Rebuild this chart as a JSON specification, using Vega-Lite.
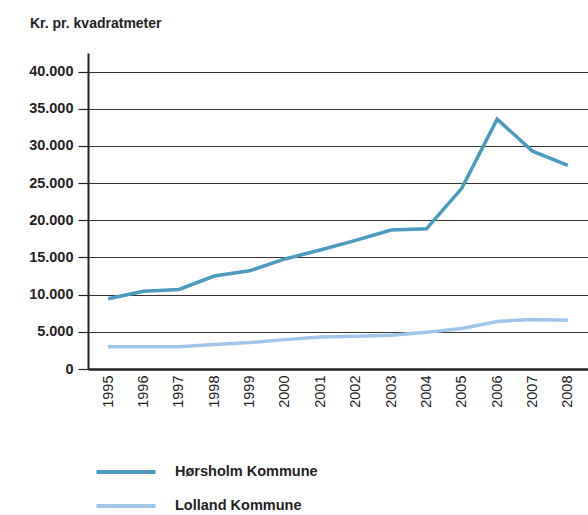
{
  "$schema": "https://vega.github.io/schema/vega-lite/v6.json",
  "autosize": {"type": "none"},
  "padding": {"left": 88, "top": 53, "right": 0, "bottom": 146},
  "width": 500,
  "height": 316,
  "title": {"text": "Kr. pr. kvadratmeter", "anchor": "start", "frame": "group", "dx": -58, "offset": 22, "font": "Liberation Sans", "fontSize": 14, "fontWeight": "bold", "color": "#222"},
  "config": {"view": {"stroke": null}, "font": "Liberation Sans"},
  "data": {"values": [
    {"year": "1995", "kommune": "Hørsholm Kommune", "value": 9450},
    {"year": "1996", "kommune": "Hørsholm Kommune", "value": 10450},
    {"year": "1997", "kommune": "Hørsholm Kommune", "value": 10700},
    {"year": "1998", "kommune": "Hørsholm Kommune", "value": 12500},
    {"year": "1999", "kommune": "Hørsholm Kommune", "value": 13200},
    {"year": "2000", "kommune": "Hørsholm Kommune", "value": 14800},
    {"year": "2001", "kommune": "Hørsholm Kommune", "value": 16000},
    {"year": "2002", "kommune": "Hørsholm Kommune", "value": 17300},
    {"year": "2003", "kommune": "Hørsholm Kommune", "value": 18700},
    {"year": "2004", "kommune": "Hørsholm Kommune", "value": 18850},
    {"year": "2005", "kommune": "Hørsholm Kommune", "value": 24300},
    {"year": "2006", "kommune": "Hørsholm Kommune", "value": 33600},
    {"year": "2007", "kommune": "Hørsholm Kommune", "value": 29300},
    {"year": "2008", "kommune": "Hørsholm Kommune", "value": 27400},
    {"year": "1995", "kommune": "Lolland Kommune", "value": 3000},
    {"year": "1996", "kommune": "Lolland Kommune", "value": 3000},
    {"year": "1997", "kommune": "Lolland Kommune", "value": 3000},
    {"year": "1998", "kommune": "Lolland Kommune", "value": 3300},
    {"year": "1999", "kommune": "Lolland Kommune", "value": 3550},
    {"year": "2000", "kommune": "Lolland Kommune", "value": 3950},
    {"year": "2001", "kommune": "Lolland Kommune", "value": 4300},
    {"year": "2002", "kommune": "Lolland Kommune", "value": 4400},
    {"year": "2003", "kommune": "Lolland Kommune", "value": 4550},
    {"year": "2004", "kommune": "Lolland Kommune", "value": 4950},
    {"year": "2005", "kommune": "Lolland Kommune", "value": 5450},
    {"year": "2006", "kommune": "Lolland Kommune", "value": 6400},
    {"year": "2007", "kommune": "Lolland Kommune", "value": 6650},
    {"year": "2008", "kommune": "Lolland Kommune", "value": 6550}
  ]},
  "mark": {"type": "line", "strokeWidth": 3.5},
  "encoding": {
    "x": {"field": "year", "type": "ordinal", "scale": {"type": "point", "padding": 0.57},
      "axis": {"title": null, "labelAngle": 270, "ticks": false, "labelPadding": 6, "labelFontSize": 14.5, "labelColor": "#222", "domainColor": "#222", "domainWidth": 2.5, "grid": false}},
    "y": {"field": "value", "type": "quantitative", "scale": {"domain": [0, 42500], "nice": false},
      "axis": {"title": null, "values": [0, 5000, 10000, 15000, 20000, 25000, 30000, 35000, 40000],
        "labelExpr": "replace(format(datum.value, ','), ',', '.')", "labelFontSize": 14.5, "labelFontWeight": "bold", "labelColor": "#222",
        "tickSize": 10, "tickColor": "#222", "tickWidth": 1.2, "labelPadding": 5, "domainColor": "#222", "domainWidth": 2,
        "grid": true, "gridColor": "#333", "gridWidth": 1}},
    "color": {"field": "kommune", "type": "nominal",
      "scale": {"domain": ["Hørsholm Kommune", "Lolland Kommune"], "range": ["#4a9bc0", "#9fc6ea"]},
      "legend": {"title": null, "orient": "none", "legendX": 26, "legendY": 407, "direction": "vertical",
        "symbolType": "M-3,0H3", "symbolSize": 387, "symbolStrokeWidth": 4, "labelFontSize": 14.5, "labelFontWeight": "bold", "labelColor": "#222",
        "labelOffset": 37, "rowPadding": 14}}
  }
}
